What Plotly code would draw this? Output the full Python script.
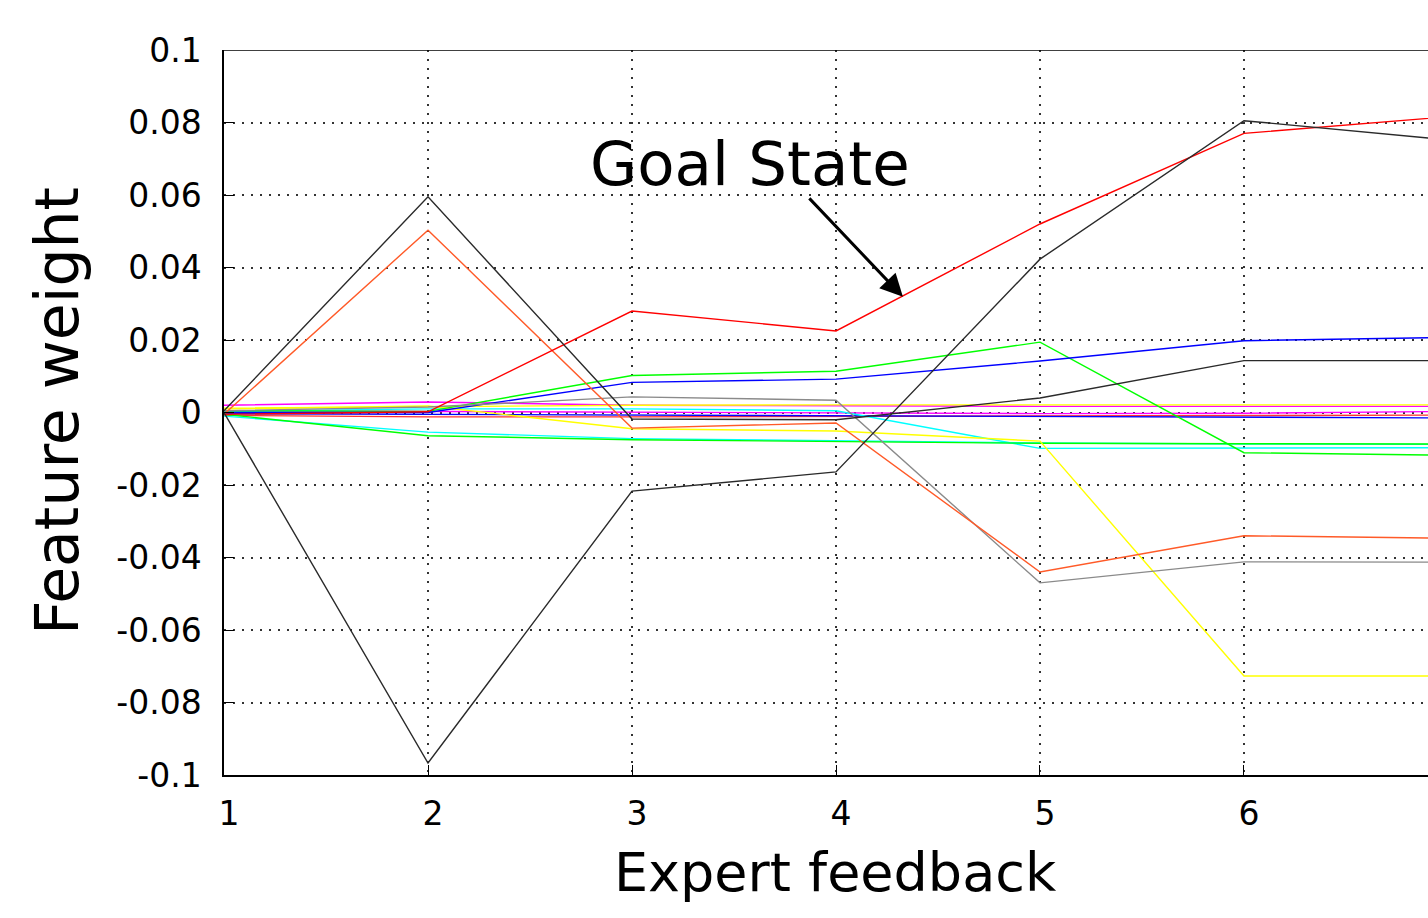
import plotly.graph_objects as go

# Feedback rounds
feedback = [1, 2, 3, 4, 5, 6, 7]

# Feature weights per round, one list per feature
w_black_peak = [0.0005, 0.0595, -0.0018, -0.0020, 0.0040, 0.0143, 0.0143]
w_black_dip = [0.0000, -0.0967, -0.0217, -0.0164, 0.0423, 0.0805, 0.0752]
w_orange = [-0.0005, 0.0503, -0.0043, -0.0029, -0.0440, -0.0340, -0.0347]
w_gray = [0.0005, 0.0015, 0.0043, 0.0034, -0.0470, -0.0412, -0.0413]
w_red = [-0.0005, 0.0002, 0.0280, 0.0225, 0.0520, 0.0770, 0.0816]
w_blue = [0.0000, 0.0000, 0.0083, 0.0092, 0.0142, 0.0198, 0.0207]
w_green = [0.0005, 0.0003, 0.0102, 0.0114, 0.0194, -0.0111, -0.0118]
w_green2 = [-0.0005, -0.0064, -0.0075, -0.0079, -0.0085, -0.0086, -0.0087]
w_cyan = [-0.0010, -0.0054, -0.0072, -0.0078, -0.0084, -0.0087, -0.0088]
w_cyan2 = [0.0003, 0.0010, 0.0010, 0.0005, -0.0099, -0.0097, -0.0097]
w_yellow = [0.0010, 0.0018, -0.0045, -0.0051, -0.0079, -0.0727, -0.0727]
w_yellow2 = [0.0012, 0.0017, 0.0020, 0.0021, 0.0021, 0.0021, 0.0021]
w_magenta = [0.0020, 0.0029, 0.0020, 0.0018, 0.0017, 0.0017, 0.0017]
w_magenta2 = [0.0005, 0.0003, 0.0001, -0.0001, -0.0003, -0.0002, 0.0003]
w_blue2 = [-0.0003, -0.0005, -0.0006, -0.0008, -0.0011, -0.0014, -0.0015]
w_red2 = [-0.0008, -0.0012, -0.0012, -0.0011, -0.0010, -0.0008, -0.0007]

series = [
    (w_red2, "#ff3030"),
    (w_blue2, "#0000ff"),
    (w_magenta2, "#ff00ff"),
    (w_magenta, "#ff00ff"),
    (w_yellow2, "#ffff00"),
    (w_cyan2, "#00ffff"),
    (w_cyan, "#00ffff"),
    (w_green2, "#00ff00"),
    (w_yellow, "#ffff00"),
    (w_green, "#00ff00"),
    (w_blue, "#0000ff"),
    (w_gray, "#8a8a8a"),
    (w_orange, "#ff5a28"),
    (w_red, "#ff0000"),
    (w_black_peak, "#2a2a2a"),
    (w_black_dip, "#2a2a2a"),
]

y_ticks = [0.1, 0.08, 0.06, 0.04, 0.02, 0, -0.02, -0.04, -0.06, -0.08, -0.1]
y_tick_text = ["0.1", "0.08", "0.06", "0.04", "0.02", "0", "-0.02", "-0.04",
               "-0.06", "-0.08", "-0.1"]

fig = go.Figure()
for vals, col in series:
    fig.add_trace(go.Scatter(x=feedback, y=vals, mode="lines",
                             line=dict(color=col, width=1.4),
                             showlegend=False, hoverinfo="skip"))

font = "DejaVu Sans, sans-serif"
grid_dash = "1.5px,7.5px"

fig.update_xaxes(
    range=[1, 6.902], tickmode="array", tickvals=feedback,
    ticktext=[str(v) for v in feedback],
    showgrid=True, gridcolor="#333333", gridwidth=1.5, griddash=grid_dash,
    zeroline=False, showline=True, linecolor="black", linewidth=1.5,
    ticks="inside", ticklen=10, tickcolor="black", tickwidth=1.3,
    tickfont=dict(family=font, size=33, color="black"),
    ticklabelstandoff=9, ticklabelshift=5,
)
fig.update_yaxes(
    range=[-0.1, 0.1], tickmode="array", tickvals=y_ticks, ticktext=y_tick_text,
    showgrid=True, gridcolor="#333333", gridwidth=1.5, griddash=grid_dash,
    zeroline=False, showline=True, linecolor="black", linewidth=1.5,
    ticks="inside", ticklen=10, tickcolor="black", tickwidth=1.3,
    tickfont=dict(family=font, size=33, color="black"),
    ticklabelstandoff=14,
)

# top border of the plot frame
fig.add_shape(type="line", xref="paper", yref="y", x0=0, x1=1, y0=0.1, y1=0.1,
              line=dict(color="black", width=1.5))

fig.add_annotation(text="Expert feedback", xref="paper", yref="paper",
                   x=0.5083, y=-0.1338, xanchor="center", yanchor="middle",
                   showarrow=False, font=dict(family=font, size=54, color="black"))
fig.add_annotation(text="Feature weight", xref="paper", yref="paper",
                   x=-0.1387, y=0.502, xanchor="center", yanchor="middle",
                   textangle=-90, showarrow=False,
                   font=dict(family=font, size=60, color="black"))

fig.add_annotation(text="Goal State", x=3.578, y=0.0688, xanchor="center",
                   yanchor="middle", showarrow=False,
                   font=dict(family=font, size=61, color="black"))
fig.add_annotation(text="", x=4.328, y=0.0319, ax=-95, ay=-100,
                   showarrow=True, arrowhead=2, arrowsize=1.5, arrowwidth=3,
                   arrowcolor="black", standoff=0)

fig.update_layout(
    width=1428, height=918,
    margin=dict(l=224, r=0, t=50, b=143),
    plot_bgcolor="white", paper_bgcolor="white",
)

fig.write_html("out.html")
